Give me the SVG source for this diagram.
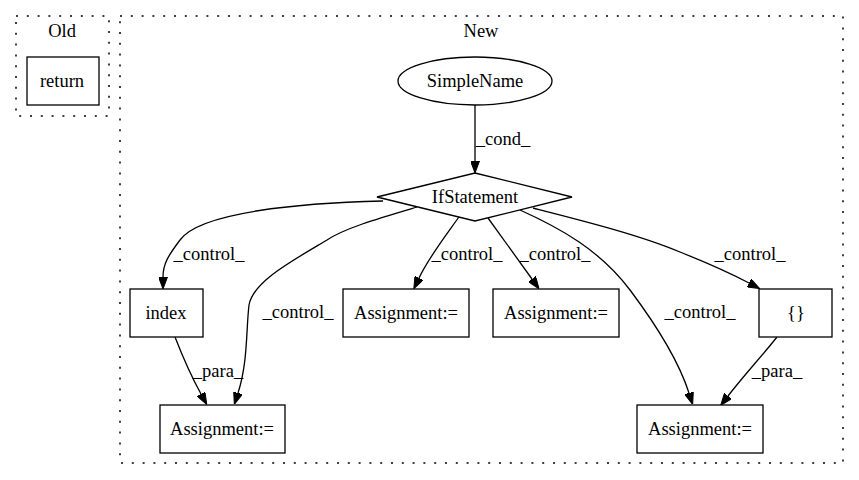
<svg xmlns="http://www.w3.org/2000/svg" width="859" height="480" viewBox="0 0 859 480">
<style>
text{font-family:"Liberation Serif","Times New Roman",serif;font-size:18.5px;fill:#000;text-anchor:middle}
.n{fill:#fff;stroke:#000;stroke-width:1.3}
.c{fill:none;stroke:#000;stroke-width:1.5;stroke-dasharray:2,8.8}
.e{fill:none;stroke:#000;stroke-width:1.3;marker-end:url(#ah)}
</style>
<defs>
<marker id="ah" viewBox="0 0 12 9" refX="0" refY="4.5" markerWidth="12" markerHeight="9" markerUnits="userSpaceOnUse" orient="auto">
<path d="M0,0 L12,4.5 L0,9 z" fill="#000" stroke="#000" stroke-width="1"/>
</marker>
</defs>
<rect width="859" height="480" fill="#fff"/>
<g id="cluster_old">
<rect class="c" x="16" y="16" width="93" height="100"/>
<text x="62" y="37">Old</text>
</g>
<g id="cluster_new">
<rect class="c" x="120" y="16" width="723" height="447"/>
<text x="481" y="37">New</text>
</g>
<g id="edges">
<path class="e" d="M475,105 L475,161"/>
<text x="503" y="145">_cond_</text>
<path class="e" d="M383,201 C300,203 200,212 180,240 C168,256 163,264 163,277"/>
<text x="209" y="260">_control_</text>
<path class="e" d="M417,207 C380,218 345,228 327,240 C290,262 253,282 249,305 C246,330 248,362 238,393"/>
<text x="298" y="318">_control_</text>
<path class="e" d="M461,214 C450,230 430,255 419,278"/>
<text x="467" y="260">_control_</text>
<path class="e" d="M488,218 L532,279"/>
<text x="555" y="260">_control_</text>
<path class="e" d="M520,210 C560,228 600,250 630,290 C660,330 680,365 689,393"/>
<text x="700" y="318">_control_</text>
<path class="e" d="M533,208 C580,220 640,235 680,252 C710,264 730,273 749,283"/>
<text x="750" y="260">_control_</text>
<path class="e" d="M175,337 C182,355 190,374 201,394"/>
<text x="218" y="377">_para_</text>
<path class="e" d="M777,337 C762,356 745,374 728,396"/>
<text x="777" y="377">_para_</text>
</g>
<g id="return">
<rect class="n" x="27" y="57" width="72" height="48"/>
<text x="62" y="87">return</text>
</g>
<g id="SimpleName">
<ellipse class="n" cx="475" cy="81" rx="77" ry="24"/>
<text x="475" y="87">SimpleName</text>
</g>
<g id="IfStatement">
<polygon class="n" points="475,173 572,197 475,221 377,197"/>
<text x="475" y="203">IfStatement</text>
</g>
<g id="index">
<rect class="n" x="130" y="289" width="73" height="48"/>
<text x="166" y="319">index</text>
</g>
<g id="assign1">
<rect class="n" x="343" y="289" width="126" height="48"/>
<text x="406" y="319">Assignment:=</text>
</g>
<g id="assign2">
<rect class="n" x="493" y="289" width="126" height="48"/>
<text x="556" y="319">Assignment:=</text>
</g>
<g id="braces">
<rect class="n" x="759" y="289" width="73" height="48"/>
<text x="796" y="319">{}</text>
</g>
<g id="assign3">
<rect class="n" x="160" y="405" width="125" height="48"/>
<text x="222" y="435">Assignment:=</text>
</g>
<g id="assign4">
<rect class="n" x="637" y="405" width="126" height="48"/>
<text x="700" y="435">Assignment:=</text>
</g>
</svg>
